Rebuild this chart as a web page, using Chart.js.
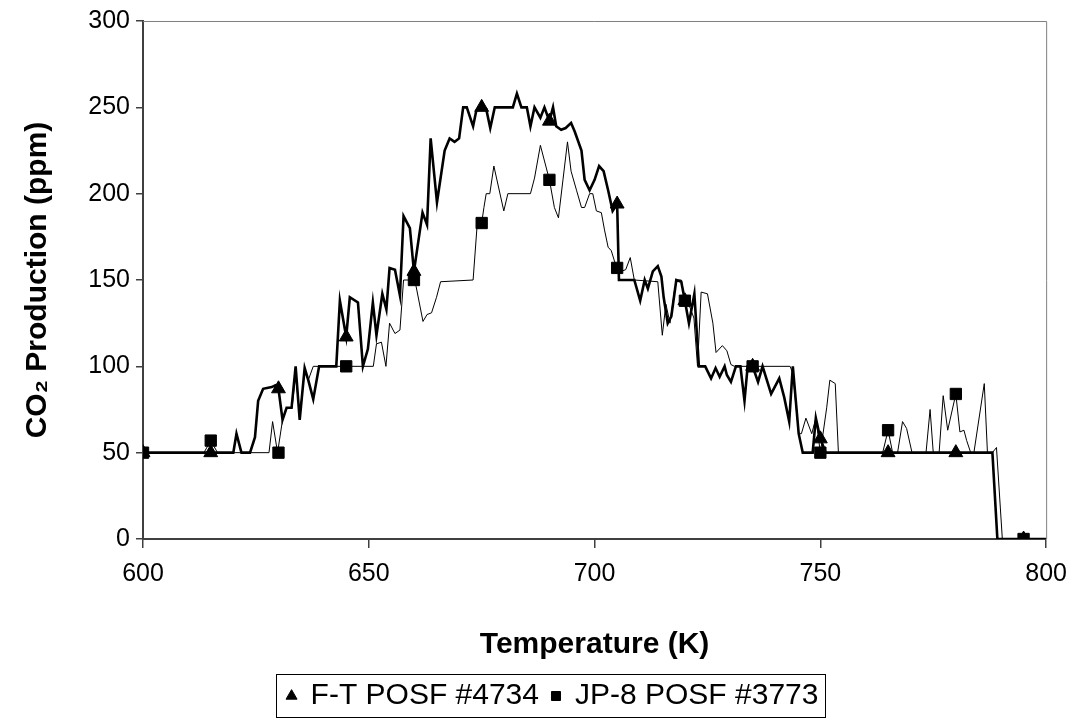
<!DOCTYPE html>
<html><head><meta charset="utf-8">
<script src="https://cdn.jsdelivr.net/npm/chart.js@4.4.0/dist/chart.umd.min.js"></script>
<style>html,body{margin:0;padding:0;background:#fff}#wrap{width:1078px;height:721px}</style>
</head><body><div id="wrap"><canvas id="c" width="1078" height="721"></canvas></div>
<script>
// F-T POSF #4734 (thick line)
const ftTemp = [
 600,620,620.7,621.8,623.7,624.8,625.5,626.6,628.5,629.3,
 630,630.9,631.8,632.9,633.8,634.7,635.8,636.6,637.7,639,
 642.8,643.6,645,645.8,647.6,648.7,649.8,650.9,651.7,653,
 653.9,654.6,655.8,656.9,657.7,659.1,660,661.9,662.9,663.7,
 665.1,666.8,667.9,669,670,670.9,671.7,673.1,673.8,675,
 676,676.9,677.9,681.9,682.8,683.8,685,685.8,686.7,688,
 688.9,690,690.8,691.5,692.6,693.6,694.8,695.6,697.1,697.8,
 698.9,700,701,702,703,704,705,705.4,708.8,710.1,
 711.1,711.8,712.9,714,714.8,715.3,716.2,717,718.1,719.2,
 720,720.9,722.1,723.1,724.5,725.8,726.8,727.7,728.8,729.3,
 730.2,731.3,732.3,733.2,733.9,735,736.2,737.2,739.1,740.9,
 742,743.1,743.9,745.2,746.1,748.3,749,750,751.2,788.1,
 789.2,800];
const ftCO2 = [
 50,50,61,50,50,59,80,87,88,89,
 87,69,76,76,100,69,99,92,81,100,
 100,138,117,140,137,100,110,137,118,142,
 133,157,156,141,187,180,155,189,182,232,
 195,225,232,230,232,250,250,239,248,250,
 249,238,250,250,258,250,250,239,250,244,
 250,242,250,239,237,238,241,236,225,208,
 202,208,216,213,202,190,194,150,150,138,
 150,145,155,158,152,140,125,129,150,149,
 138,125,142,100,100,93,99,94,100,95,
 91,100,100,80,100,100,91,100,84,93,
 82,68,100,61,50,50,70,58,50,50,
 0,0];

// JP-8 POSF #3773 (thin line)
const jpTemp = [
 600,613.5,615,616.5,627.9,628.7,629.8,630.9,631.6,632.2,
 633,633.8,634.7,635.8,636.6,637.7,651,651.7,652.8,653.8,
 654.6,655.8,656.9,657.7,660,660.5,662,662.9,663.9,665,
 665.9,673.1,674,675,675.5,676,676.8,677.7,679.9,680.8,
 685.8,686.7,688,690,691.1,692,693,694,694.8,696,
 697.1,697.8,698.9,699.6,700.4,701.5,702.2,703,703.7,704.4,
 705,705.9,706.9,707.9,708.8,714,715,715.8,716.7,717.7,
 718.3,719.2,720,721,722,722.8,723.6,725,726.2,726.9,
 728.3,729.3,730.2,731,743.3,743.9,745.2,745.8,746.8,748.1,
 749,750,751.4,752.1,753.3,754,763.8,765,766,767.1,
 768.2,769.1,770.3,773.4,774.3,775,776.3,777.2,778.2,780,
 780.9,781.8,782.4,783.3,784,786.3,787,788.1,789,790.3,
 800];
const jpCO2 = [
 50,50,57,50,50,68,50,69,75,76,
 76,95,72,97,92,100,100,113,114,100,
 125,119,121,150,150,146,126,130,131,140,
 149,150,182,183,192,200,200,216,190,200,
 200,209,228,208,192,186,208,230,213,202,
 192,192,200,200,190,189,179,169,167,161,
 157,155,156,163,150,149,118,136,125,144,
 150,150,138,135,128,100,143,142,125,108,
 112,109,101,100,100,96,61,61,70,61,
 70,50,76,92,90,50,50,63,50,50,
 68,64,50,50,75,50,50,83,63,84,
 62,63,57,50,50,90,50,50,53,0,
 0];

// Marker series (every 15 K)
const markerTemps = [600,615,630,645,660,675,690,705,720,735,750,765,780,795];
const ftMarkers = [50,50,87,117,155,250,242,194,138,100,58,50,50,0];
const jpMarkers = [50,57,50,100,150,183,208,157,138,100,50,63,84,0];

const seriesNames = ['F-T POSF #4734', 'JP-8 POSF #3773'];
const xTickValues = [600,650,700,750,800];
const yTickValues = [0,50,100,150,200,250,300];

const zip = (xs, ys) => xs.map((x, i) => ({x: x, y: ys[i]}));
const FONT = 'Liberation Sans, Arial, sans-serif';

const frame = {
  id: 'frame',
  afterDraw(chart) {
    const ctx = chart.ctx, a = chart.chartArea;
    ctx.save();
    ctx.strokeStyle = '#808080';
    ctx.lineWidth = 1;
    ctx.beginPath();
    ctx.moveTo(a.left, a.top + 0.5);
    ctx.lineTo(a.right + 0.5, a.top + 0.5);
    ctx.lineTo(a.right + 0.5, a.bottom);
    ctx.stroke();
    const hb = chart.legend.legendHitBoxes;
    if (hb && hb.length) {
      const l = Math.min(...hb.map(h => h.left)) - 12;
      const r = Math.max(...hb.map(h => h.left + h.width)) + 6;
      const t = Math.min(...hb.map(h => h.top)) - 7;
      const b = Math.max(...hb.map(h => h.top + h.height)) + 6;
      ctx.strokeStyle = '#000';
      ctx.strokeRect(Math.round(l) + 0.5, Math.round(t) + 0.5, Math.round(r - l), Math.round(b - t));
    }
    ctx.restore();
  }
};

new Chart(document.getElementById('c'), {
  type: 'scatter',
  data: {
    datasets: [
      { label: seriesNames[0], data: zip(markerTemps, ftMarkers), showLine: false,
        pointStyle: 'triangle', pointRadius: 8, pointHoverRadius: 8,
        backgroundColor: '#000', borderColor: '#000', borderWidth: 1 },
      { label: seriesNames[1], data: zip(markerTemps, jpMarkers), showLine: false,
        pointStyle: 'rect', pointRadius: 8, pointHoverRadius: 8,
        backgroundColor: '#000', borderColor: '#000', borderWidth: 1 },
      { label: 'ftLine', data: zip(ftTemp, ftCO2), showLine: true, pointRadius: 0,
        borderColor: '#000', borderWidth: 2.6, tension: 0, fill: false },
      { label: 'jpLine', data: zip(jpTemp, jpCO2), showLine: true, pointRadius: 0,
        borderColor: '#000', borderWidth: 1, tension: 0, fill: false }
    ]
  },
  options: {
    responsive: false,
    animation: false,
    devicePixelRatio: 1,
    layout: { padding: { top: 20, right: 31, bottom: 0, left: 59 } },
    plugins: {
      tooltip: { enabled: false },
      legend: {
        position: 'bottom',
        labels: {
          filter: (item) => item.datasetIndex < 2,
          usePointStyle: true,
          boxHeight: 9,
          boxWidth: 8,
          padding: 13,
          color: '#000',
          font: { family: FONT, size: 30 }
        }
      }
    },
    scales: {
      x: {
        type: 'linear', min: 600, max: 800,
        afterBuildTicks: (s) => { s.ticks = xTickValues.map(v => ({value: v})); },
        afterFit: (s) => { s.height = 129; },
        grid: { drawOnChartArea: false, drawTicks: true, tickLength: 9, color: '#404040', lineWidth: 1.5 },
        border: { display: true, color: '#404040', width: 2 },
        ticks: { color: '#000', padding: 11, maxRotation: 0, font: { family: FONT, size: 25 } },
        title: { display: true, text: 'Temperature (K)', color: '#000',
          padding: { top: 0, bottom: 5 },
          font: { family: FONT, size: 30, weight: 'bold' } }
      },
      y: {
        type: 'linear', min: 0, max: 300,
        afterBuildTicks: (s) => { s.ticks = yTickValues.map(v => ({value: v})); },
        afterFit: (s) => { s.width = 84; },
        grid: { drawOnChartArea: false, drawTicks: true, tickLength: 7, color: '#404040', lineWidth: 1.5 },
        border: { display: true, color: '#404040', width: 2 },
        ticks: { color: '#000', padding: 6, font: { family: FONT, size: 25 } },
        title: { display: true, text: 'CO₂ Production (ppm)', color: '#000',
          padding: { top: -39, bottom: 0 },
          font: { family: FONT, size: 30, weight: 'bold' } }
      }
    }
  },
  plugins: [frame]
});
</script>
</body></html>
